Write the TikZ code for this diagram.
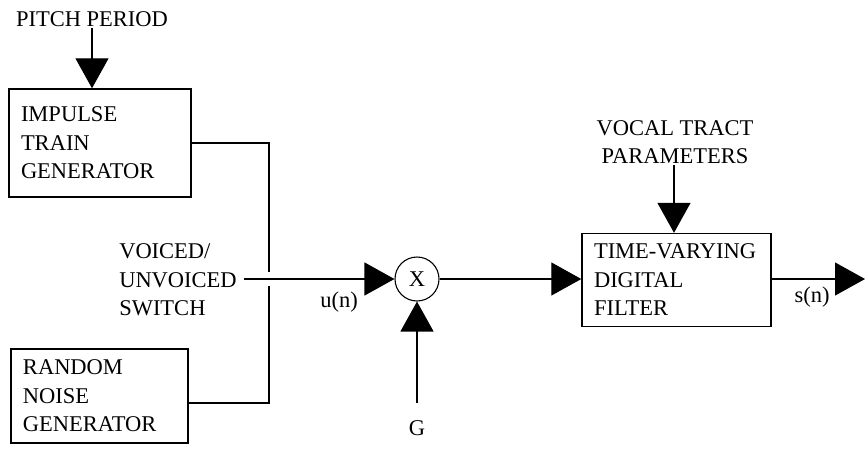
\documentclass[tikz,border=0pt]{standalone}
\usepackage{fontspec}
\setmainfont{Liberation Serif}
\usetikzlibrary{positioning,arrows.meta}

\begin{document}
\begin{tikzpicture}[x=1pt,y=-1pt,font=\fontsize{22.5}{28.5}\selectfont,
  blk/.style={draw,line width=1.4pt,align=left,inner xsep=12pt,inner ysep=0pt},
  mul/.style={draw,circle,line width=1.1pt,minimum size=44pt,inner sep=0pt},
  lab/.style={inner sep=1pt,align=left},
  wire/.style={line width=1.2pt},
  arr/.style={wire,-{Triangle[length=30pt,width=33pt]}}]
\useasboundingbox (0,0) rectangle (865,450);
% sources (left column)
\node[lab] (pitch) at (92,19) {PITCH PERIOD};
\node[blk,text width=158pt,minimum height=108pt] (imp) at (100,143) {IMPULSE\\TRAIN\\GENERATOR};
\node[blk,text width=153pt,minimum height=94pt] (rnd) at (99.5,396) {RANDOM\\NOISE\\GENERATOR};
\draw[arr] (pitch.south) -- (pitch.south |- imp.north);
% voiced/unvoiced switch
\node[lab] (sw) at (178,280) {VOICED/\\UNVOICED\\SWITCH};
\coordinate (swA) at (269,272);
\coordinate (swB) at (269,286);
\coordinate (swout) at (244,279);
\draw[wire] (imp.east) -| (swA);
\draw[wire] (rnd.east |- 0,403) -| (swB);
% gain multiplier
\node[mul] (mult) at (417,279) {X};
\node[lab] (un) at (339,302) {u(n)};
\draw[arr] (swout) -- (mult.west);
\node[lab] (g) at (417,428) {G};
\coordinate (gin) at (417,403);
\draw[arr] (gin) -- (mult.south);
% vocal tract filter
\node[blk,text width=165pt,minimum height=93pt] (filt) at (676.5,280) {TIME-VARYING\\DIGITAL\\FILTER};
\node[lab,align=center] (vocal) at (675,142) {VOCAL TRACT\\PARAMETERS};
\draw[arr] (mult.east) -- (mult.east -| filt.west);
\draw[arr] (vocal.south -| 674,0) -- (674,0 |- filt.north);
\coordinate (out) at (865,279);
\node[lab] (sn) at (812,297) {s(n)};
\draw[arr] (filt.east |- out) -- (out);
\end{tikzpicture}
\end{document}
